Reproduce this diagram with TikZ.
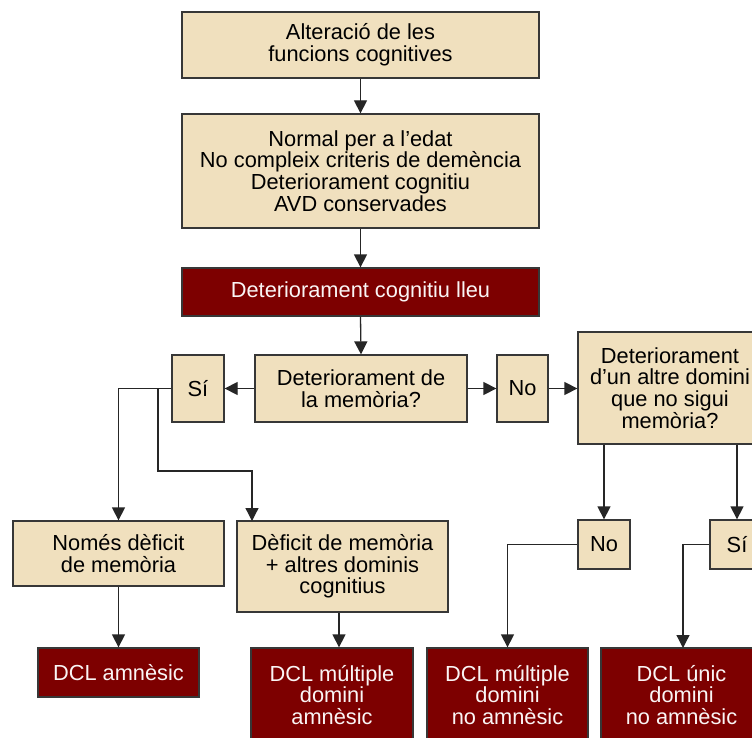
\documentclass[tikz,border=0pt]{standalone}
\usepackage{fontspec}
\setmainfont{Liberation Sans}
\usetikzlibrary{arrows.meta}
\definecolor{beige}{RGB}{240,224,190}
\definecolor{maroon}{RGB}{125,0,0}
\definecolor{edge}{RGB}{55,55,55}
\begin{document}
\begin{tikzpicture}[x=1pt,y=-1pt,
  base/.style={rectangle, draw=edge, line width=1.3pt, inner sep=0pt, align=center,
    font=\fontsize{21.8}{21.7}\selectfont},
  beigebox/.style={base, fill=beige, text=black},
  redbox/.style={base, fill=maroon, text=white!96!maroon},
  arr/.style={draw=black!85, line width=1.3pt, -{Triangle[width=13pt,length=13pt]}},
  ln/.style={draw=black!85, line width=1.3pt}]
\useasboundingbox (0,0) rectangle (752,738);
\clip (0,0) rectangle (752,738);
\fill[white] (0,0) rectangle (752,738);
% boxes
\node[beigebox, minimum width=357pt, minimum height=66pt] (b1) at (360.5,45) {Alteració de les\\funcions cognitives};
\node[beigebox, minimum width=357pt, minimum height=114pt] (b2) at (360.5,171) {Normal per a l’edat\\No compleix criteris de demència\\Deteriorament cognitiu\\AVD conservades};
\node[redbox, minimum width=357pt, minimum height=48pt] (b3) at (360.5,292) {Deteriorament cognitiu lleu};
\node[beigebox, minimum width=212pt, minimum height=67pt] (q1) at (361,388.5) {Deteriorament de\\la memòria?};
\node[beigebox, minimum width=52pt, minimum height=67pt] (si1) at (198,388.5) {Sí};
\node[beigebox, minimum width=51pt, minimum height=67pt] (no1) at (522.5,388.5) {No};
\node[beigebox, minimum width=184pt, minimum height=112pt] (q2) at (670,388) {Deteriorament\\d’un altre domini\\que no sigui\\memòria?};
\node[beigebox, minimum width=211pt, minimum height=65pt] (m1) at (118.5,553.5) {Només dèficit\\de memòria};
\node[beigebox, minimum width=211pt, minimum height=91pt] (m2) at (342.5,566.5) {Dèficit de memòria\\+ altres dominis\\cognitius};
\node[beigebox, minimum width=52pt, minimum height=49pt] (no2) at (604,544.5) {No};
\node[beigebox, minimum width=54pt, minimum height=49pt] (si2) at (737,544.5) {Sí};
\node[redbox, minimum width=161pt, minimum height=49pt] (d1) at (118.5,672.5) {DCL amnèsic};
\node[redbox, minimum width=162pt, minimum height=94pt] (d2) at (332,695) {DCL múltiple\\domini\\amnèsic};
\node[redbox, minimum width=161pt, minimum height=94pt] (d3) at (507.5,695) {DCL múltiple\\domini\\no amnèsic};
\node[redbox, minimum width=161pt, minimum height=94pt] (d4) at (681.5,695) {DCL únic\\domini\\no amnèsic};
% connectors
\draw[arr] (b1.south) -- (b2.north);
\draw[arr] (b2.south) -- (b3.north);
\draw[arr] (b3.south) -- (q1.north);
\draw[arr] (q1.west) -- (si1.east);
\draw[arr] (q1.east) -- (no1.west);
\draw[arr] (no1.east) -- (no1.east -| q2.west);
\draw[arr] (si1.west) -| (m1.north);
\coordinate (j1) at (158,388.5);
\coordinate (e2) at (252,521);
\draw[arr] (j1) |- (158,471) -| (e2);
\draw[arr] (m1.south) -- (d1.north);
\draw[arr] ([xshift=-3.5pt]m2.south) -- ([xshift=-3.5pt]m2.south |- d2.north);
\draw[arr] (q2.south -| no2.north) -- (no2.north);
\draw[arr] (q2.south -| si2.north) -- (si2.north);
\draw[arr] (no2.west) -| (d3.north);
\coordinate (e4) at (683,648);
\draw[arr] (si2.west) -| (e4);
\end{tikzpicture}
\end{document}
